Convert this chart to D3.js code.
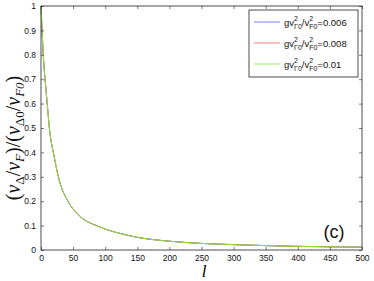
<!DOCTYPE html>
<html><head><meta charset="utf-8">
<script src="https://cdn.jsdelivr.net/npm/d3@7"></script>
<style>body{margin:0;background:#fff}svg{display:block}</style>
</head><body>
<svg id="c" width="374" height="281"></svg>
<script>
const lValues = [0,2,4,7,10,13,20,28,42,60,90,123,150,200,250,300,350,400,450,500];
const series006 = [1,0.88,0.78,0.68,0.59,0.5,0.39,0.29,0.2,0.14,0.096,0.068,0.052,0.036,0.027,0.022,0.018,0.015,0.013,0.012];
const series008 = [1,0.88,0.78,0.68,0.59,0.5,0.39,0.29,0.2,0.14,0.096,0.068,0.052,0.036,0.027,0.022,0.018,0.015,0.013,0.012];
const series01  = [1,0.88,0.78,0.68,0.59,0.5,0.39,0.29,0.2,0.14,0.096,0.068,0.052,0.036,0.027,0.022,0.018,0.015,0.013,0.012];
const seriesNames = ["0.006","0.008","0.01"];
const seriesColors = ["#4d5cff","#ff5a5a","#7ee83a"];
const xTicks = [0,50,100,150,200,250,300,350,400,450,500];
const yTicks = [0,0.1,0.2,0.3,0.4,0.5,0.6,0.7,0.8,0.9,1];

const svg = d3.select("#c");
const L = 41, R = 362, T = 6, B = 250;
const x = d3.scaleLinear().domain([0,500]).range([L,R]);
const y = d3.scaleLinear().domain([0,1]).range([B,T]);
const font = "Liberation Sans, Arial, sans-serif";

const all = [series006, series008, series01];
const line = d3.line().x(d=>x(d[0])).y(d=>y(d[1])).curve(d3.curveMonotoneX);
all.forEach((s,i)=>{
  svg.append("path").datum(lValues.map((l,j)=>[l,s[j]]))
    .attr("d",line).attr("fill","none").attr("stroke",seriesColors[i]).attr("stroke-width",1);
});

function styleAxis(g){
  g.selectAll(".domain").remove();
  g.selectAll("line").attr("stroke","#222").attr("stroke-width",0.6);
  g.selectAll("text").attr("font-family",font).attr("font-size","8.5px").attr("fill","#111");
}
const fmt = d=>d3.format("")(d);
svg.append("g").attr("transform",`translate(0,${B})`)
  .call(d3.axisBottom(x).tickValues(xTicks).tickSize(-3).tickPadding(5).tickFormat(fmt)).call(styleAxis);
svg.append("g").attr("transform",`translate(0,${T})`)
  .call(d3.axisTop(x).tickValues(xTicks).tickSize(-3).tickFormat("")).call(styleAxis);
svg.append("g").attr("transform",`translate(${L},0)`)
  .call(d3.axisLeft(y).tickValues(yTicks).tickSize(-3).tickPadding(5).tickFormat(fmt)).call(styleAxis);
svg.append("g").attr("transform",`translate(${R},0)`)
  .call(d3.axisRight(y).tickValues(yTicks).tickSize(-3).tickFormat("")).call(styleAxis);

svg.append("rect").attr("x",L).attr("y",T).attr("width",R-L).attr("height",B-T)
  .attr("fill","none").attr("stroke","#222").attr("stroke-width",0.8);

// legend
const lg = svg.append("g");
lg.append("rect").attr("x",249).attr("y",10).attr("width",109).attr("height",67)
  .attr("fill","#fff").attr("stroke","#222").attr("stroke-width",0.8);
seriesNames.forEach((n,i)=>{
  const yy = 22 + i*21;
  lg.append("line").attr("x1",254).attr("x2",280).attr("y1",yy).attr("y2",yy)
    .attr("stroke",seriesColors[i]).attr("stroke-width",0.8);
  const t = lg.append("text").attr("x",284).attr("y",yy+3.5).attr("font-family",font).attr("font-size","9.5px").attr("fill","#111");
  t.append("tspan").text("gv");
  t.append("tspan").attr("dy",-5).attr("font-size","7px").text("2");
  t.append("tspan").attr("dx",-3.9).attr("dy",8.5).attr("font-size","7px").text("Γ0");
  t.append("tspan").attr("dy",-3.5).text("/v");
  t.append("tspan").attr("dy",-5).attr("font-size","7px").text("2");
  t.append("tspan").attr("dx",-3.9).attr("dy",8.5).attr("font-size","7px").text("F0");
  t.append("tspan").attr("dy",-3.5).text("="+n);
});

// (c)
svg.append("text").attr("x",334).attr("y",238).attr("text-anchor","middle")
  .attr("font-family",font).attr("font-size","18px").attr("fill","#111").text("(c)");

// x label
svg.append("text").attr("x",204).attr("y",277).attr("text-anchor","middle")
  .attr("font-family","Liberation Serif, serif").attr("font-style","italic").attr("font-size","17px").text("l");

// y label
const yl = svg.append("text").attr("transform","translate(20,138) rotate(-90)").attr("text-anchor","middle")
  .attr("font-family","Liberation Serif, serif").attr("font-size","20px").attr("fill","#111");
yl.append("tspan").text("(");
yl.append("tspan").attr("font-style","italic").text("v");
yl.append("tspan").attr("dy",4).attr("font-size","13px").text("Δ");
yl.append("tspan").attr("dy",-4).text("/");
yl.append("tspan").attr("font-style","italic").text("v");
yl.append("tspan").attr("dy",4).attr("font-size","13px").attr("font-style","italic").text("F");
yl.append("tspan").attr("dy",-4).text(")/(");
yl.append("tspan").attr("font-style","italic").text("v");
yl.append("tspan").attr("dy",4).attr("font-size","13px").text("Δ0");
yl.append("tspan").attr("dy",-4).text("/");
yl.append("tspan").attr("font-style","italic").text("v");
yl.append("tspan").attr("dy",4).attr("font-size","13px").attr("font-style","italic").text("F0");
yl.append("tspan").attr("dy",-4).text(")");
</script>
</body></html>
